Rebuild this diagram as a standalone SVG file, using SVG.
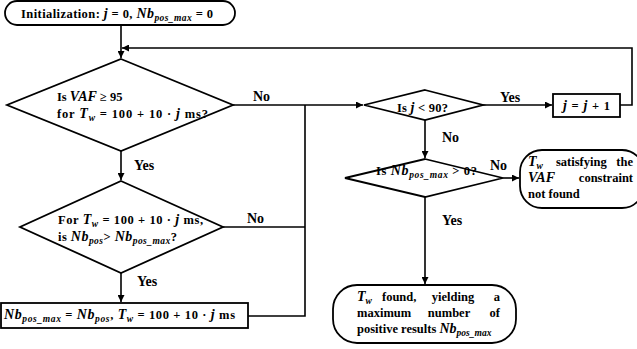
<svg xmlns="http://www.w3.org/2000/svg" width="637" height="349" viewBox="0 0 637 349">
<style>
text{font-family:"Liberation Serif","Times New Roman",serif;font-weight:bold;font-size:12.5px;fill:#000}
.m{font-style:italic;font-size:14px}
.s{font-style:italic;font-size:9.5px}
.lbl{font-size:14px}
.shape{fill:#fff;stroke:#000;stroke-width:1.8}
.c{fill:none;stroke:#000;stroke-width:1.6}
</style>
<defs>
<marker id="ah" viewBox="0 0 10 10" refX="10" refY="5" markerWidth="7" markerHeight="7" markerUnits="userSpaceOnUse" orient="auto">
<path d="M0,0 L10,5 L0,10 z" fill="#000"/>
</marker>
</defs>
<g id="connectors">
<path class="c" d="M121,25 V58" marker-end="url(#ah)"/>
<path class="c" d="M620,105 H632 V48 H122" marker-end="url(#ah)"/>
<path class="c" d="M233,105 H363" marker-end="url(#ah)"/>
<path class="c" d="M223,227 H305"/>
<path class="c" d="M248,316 H305 V105"/>
<path class="c" d="M121,151 V180" marker-end="url(#ah)"/>
<path class="c" d="M121,273 V302" marker-end="url(#ah)"/>
<path class="c" d="M483,105 H552" marker-end="url(#ah)"/>
<path class="c" d="M425,120 V158" marker-end="url(#ah)"/>
<path class="c" d="M503,178 H519" marker-end="url(#ah)"/>
<path class="c" d="M425,197 V284" marker-end="url(#ah)"/>
<text class="lbl" x="253" y="101">No</text>
<text class="lbl" x="134" y="170">Yes</text>
<text class="lbl" x="247" y="223">No</text>
<text class="lbl" x="137" y="286">Yes</text>
<text class="lbl" x="500" y="102">Yes</text>
<text class="lbl" x="442" y="142">No</text>
<text class="lbl" x="490" y="170">No</text>
<text class="lbl" x="442" y="225">Yes</text>
</g>
<g id="init">
<rect class="shape" x="5" y="1" width="230" height="24" rx="12"/>
<text x="21" y="18" textLength="192" lengthAdjust="spacing">Initialization: <tspan class="m">j</tspan> = 0, <tspan class="m">Nb</tspan><tspan class="s" dy="3">pos_max</tspan><tspan dy="-3"> = 0</tspan></text>
</g>
<g id="vaf">
<polygon class="shape" points="121,59 233,105 121,151 7,105"/>
<text x="57" y="101">Is <tspan class="m">VAF</tspan> ≥ 95</text>
<text x="57" y="118" textLength="151" lengthAdjust="spacing">for <tspan class="m">T</tspan><tspan class="s" dy="3">w</tspan><tspan dy="-3"> = 100 + 10 · </tspan><tspan class="m">j</tspan> ms?</text>
</g>
<g id="nbcheck">
<polygon class="shape" points="121,181 223,227 121,273 20,227"/>
<text x="58" y="224" textLength="145" lengthAdjust="spacing">For <tspan class="m">T</tspan><tspan class="s" dy="3">w</tspan><tspan dy="-3"> = 100 + 10 · </tspan><tspan class="m">j</tspan> ms,</text>
<text x="58" y="241" textLength="119" lengthAdjust="spacing">is <tspan class="m">Nb</tspan><tspan class="s" dy="3">pos</tspan><tspan dy="-3">&gt; </tspan><tspan class="m">Nb</tspan><tspan class="s" dy="3">pos_max</tspan><tspan dy="-3">?</tspan></text>
</g>
<g id="update">
<rect class="shape" x="1" y="303" width="247" height="25"/>
<text x="4" y="319" textLength="231" lengthAdjust="spacing"><tspan class="m">Nb</tspan><tspan class="s" dy="3">pos_max</tspan><tspan dy="-3"> = </tspan><tspan class="m">Nb</tspan><tspan class="s" dy="3">pos</tspan><tspan dy="-3">, </tspan><tspan class="m">T</tspan><tspan class="s" dy="3">w</tspan><tspan dy="-3"> = 100 + 10 · </tspan><tspan class="m">j</tspan> ms</text>
</g>
<g id="jcheck">
<polygon class="shape" points="425,90 483,105 425,120 364,105"/>
<text x="397" y="112" textLength="51" lengthAdjust="spacing">Is <tspan class="m">j</tspan> &lt; 90?</text>
</g>
<g id="increment">
<rect class="shape" x="553" y="94" width="67" height="23"/>
<text x="563" y="110" textLength="47" lengthAdjust="spacing"><tspan class="m">j</tspan> = <tspan class="m">j</tspan> + 1</text>
</g>
<g id="nbmax">
<polygon class="shape" points="425,159 503,178 425,197 345,178"/>
<text x="376" y="175" textLength="101" lengthAdjust="spacing">Is <tspan class="m">Nb</tspan><tspan class="s" dy="3">pos_max</tspan><tspan dy="-3"> &gt; 0?</tspan></text>
</g>
<g id="notfound">
<rect class="shape" x="520" y="150" width="124" height="58" rx="22"/>
<text x="528" y="166"><tspan class="m">T</tspan><tspan class="s" dy="3">w</tspan></text>
<text x="556" y="166">satisfying</text>
<text x="633" y="166" text-anchor="end">the</text>
<text x="528" y="182"><tspan class="m">VAF</tspan></text>
<text x="633" y="182" text-anchor="end">constraint</text>
<text x="528" y="198">not found</text>
</g>
<g id="found">
<rect class="shape" x="333" y="285" width="183" height="58" rx="24"/>
<text x="357" y="301"><tspan class="m">T</tspan><tspan class="s" dy="3">w</tspan></text>
<text x="382" y="301">found,</text>
<text x="453" y="301" text-anchor="middle">yielding</text>
<text x="500" y="301" text-anchor="end">a</text>
<text x="357" y="317">maximum</text>
<text x="449" y="317" text-anchor="middle">number</text>
<text x="500" y="317" text-anchor="end">of</text>
<text x="357" y="333">positive results <tspan class="m">Nb</tspan><tspan class="s" dy="3">pos_max</tspan></text>
</g>
</svg>
